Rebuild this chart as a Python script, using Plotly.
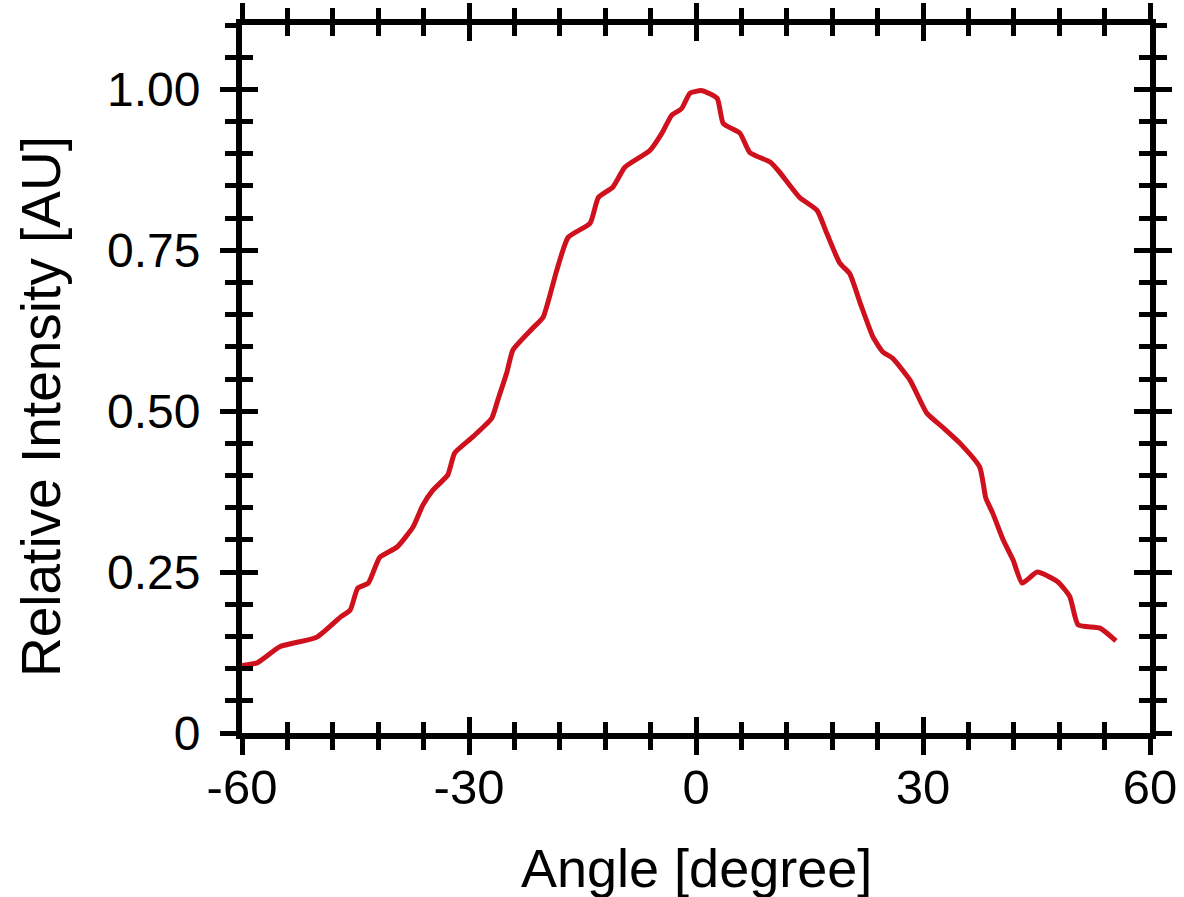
import plotly.graph_objects as go

angle = [-60, -58.0, -55.0, -50.1, -47.0, -45.7, -44.7, -43.3, -41.8, -39.5, -37.4, -36.1,
         -34.8, -32.8, -31.9, -29.5, -27.0, -26.2, -25.0, -24.2, -21.5, -20.2, -18.4, -16.9,
         -14.0, -12.9, -11.0, -9.4, -6.1, -4.5, -3.2, -1.9, -0.8, 0.8, 2.8, 3.6, 5.8, 7.1,
         9.8, 11.0, 13.7, 16.0, 17.3, 19.0, 20.3, 21.7, 23.4, 24.7, 26.0, 28.3, 30.5, 32.6,
         34.9, 37.5, 38.3, 39.2, 40.6, 41.9, 43.1, 45.1, 47.8, 49.4, 50.5, 53.4, 55.5]
intensity = [0.105, 0.109, 0.134, 0.149, 0.180, 0.191, 0.225, 0.233, 0.273, 0.289, 0.320, 0.354,
             0.377, 0.401, 0.435, 0.460, 0.489, 0.517, 0.560, 0.595, 0.630, 0.646, 0.719, 0.770,
             0.792, 0.832, 0.848, 0.879, 0.905, 0.932, 0.960, 0.970, 0.994, 0.998, 0.986, 0.947,
             0.932, 0.902, 0.887, 0.872, 0.832, 0.812, 0.776, 0.730, 0.714, 0.668, 0.615, 0.592,
             0.582, 0.548, 0.497, 0.475, 0.450, 0.413, 0.365, 0.342, 0.300, 0.269, 0.233, 0.250,
             0.235, 0.212, 0.168, 0.163, 0.143]

x_ticks = [-60, -30, 0, 30, 60]
x_ticktext = ["-60", "-30", "0", "30", "60"]
y_ticks = [0, 0.25, 0.5, 0.75, 1.0]
y_ticktext = ["0", "0.25", "0.50", "0.75", "1.00"]

FONT = "Liberation Sans, Arial, Helvetica, sans-serif"
X_RANGE = [-60, 60]
Y_RANGE = [0, 1.1]

fig = go.Figure()
fig.add_trace(go.Scatter(x=angle, y=intensity, mode="lines",
                         line=dict(color="#cf111d", width=5, shape="spline", smoothing=0.5),
                         showlegend=False))
fig.add_trace(go.Scatter(x=[None], y=[None], xaxis="x2", yaxis="y2",
                         mode="lines", showlegend=False, hoverinfo="skip"))

common_x = dict(range=X_RANGE, tickmode="array", tickvals=x_ticks, ticktext=x_ticktext,
                tickwidth=5, tickcolor="black", showgrid=False, zeroline=False,
                mirror="ticks", automargin=False)
common_y = dict(range=Y_RANGE, tickmode="array", tickvals=y_ticks, ticktext=y_ticktext,
                tickwidth=5, tickcolor="black", showgrid=False, zeroline=False,
                mirror="ticks", automargin=False)

fig.update_layout(
    width=1184, height=897,
    margin=dict(l=242, r=34, t=25, b=164),
    paper_bgcolor="white", plot_bgcolor="white",
    font=dict(family=FONT, color="black", size=50),
    xaxis=dict(**common_x, ticks="outside", ticklen=16, showline=True, linewidth=6,
               linecolor="black", ticklabelstandoff=-10,
               tickfont=dict(size=49, family=FONT, color="black"),
               minor=dict(ticks="outside", ticklen=11, tickwidth=5, tickcolor="black",
                          dtick=6, tick0=-60)),
    yaxis=dict(**common_y, ticks="outside", ticklen=16, showline=True, linewidth=6,
               linecolor="black", ticklabelstandoff=10,
               tickfont=dict(size=48, family=FONT, color="black"),
               minor=dict(ticks="outside", ticklen=11, tickwidth=5, tickcolor="black",
                          dtick=0.05, tick0=0)),
    xaxis2=dict(**common_x, overlaying="x", anchor="y2", ticks="inside", ticklen=16,
                showline=False, showticklabels=False,
                minor=dict(ticks="inside", ticklen=11, tickwidth=5, tickcolor="black",
                           dtick=6, tick0=-60)),
    yaxis2=dict(**common_y, overlaying="y", anchor="x2", side="left", ticks="inside",
                ticklen=16, showline=False, showticklabels=False,
                minor=dict(ticks="inside", ticklen=11, tickwidth=5, tickcolor="black",
                           dtick=0.05, tick0=0)),
    annotations=[
        dict(text="Angle [degree]", xref="paper", yref="paper", x=0.5, y=0,
             xanchor="center", yanchor="middle", yshift=-135, showarrow=False,
             font=dict(size=54, family=FONT, color="black")),
        dict(text="Relative Intensity [AU]", xref="paper", yref="paper", x=0, y=0.5,
             xanchor="center", yanchor="middle", xshift=-201, yshift=-28, textangle=-90,
             showarrow=False, font=dict(size=55, family=FONT, color="black")),
    ],
)

fig.write_html("out.html")
